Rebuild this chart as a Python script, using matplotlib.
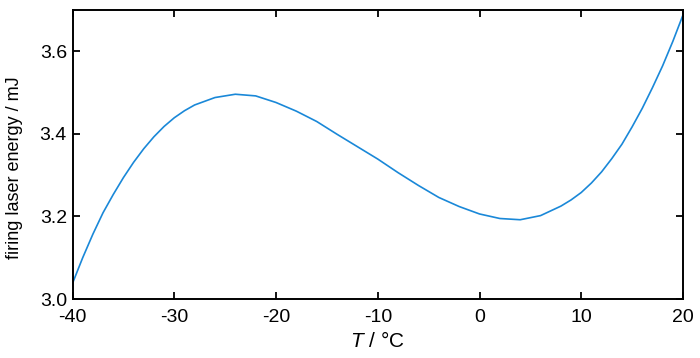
import matplotlib
matplotlib.use("Agg")
import matplotlib.pyplot as plt

# valores (mas densos donde la curva se dobla)
temp = [-40, -39, -38, -37, -36, -35, -34, -33, -32, -31, -30, -29, -28,
        -26, -24, -22, -20, -18, -16, -14, -12, -10, -8, -6, -4, -2, 0,
        2, 4, 6, 8, 9, 10, 11, 12, 13, 14, 15, 16, 17, 18, 19, 20]
energy = [3.038, 3.100, 3.157, 3.209, 3.253, 3.294, 3.331, 3.364, 3.393,
          3.418, 3.439, 3.456, 3.470, 3.488, 3.496, 3.492, 3.476, 3.455,
          3.430, 3.399, 3.369, 3.339, 3.306, 3.275, 3.246, 3.224, 3.206,
          3.195, 3.192, 3.202, 3.225, 3.240, 3.258, 3.281, 3.308, 3.340,
          3.375, 3.417, 3.462, 3.512, 3.565, 3.624, 3.688]

x_ticks = [-40, -30, -20, -10, 0, 10, 20]
y_ticks = [3.0, 3.2, 3.4, 3.6]

plt.rcParams['font.family'] = ['Liberation Sans', 'DejaVu Sans']
plt.rcParams['mathtext.fontset'] = 'custom'
plt.rcParams['mathtext.it'] = 'Liberation Sans:italic'
plt.rcParams['mathtext.rm'] = 'Liberation Sans'

fig = plt.figure(figsize=(7, 3.58), dpi=100)
ax = fig.add_axes([0.1036, 0.1648, 0.8721, 0.8072])

ax.plot(temp, energy, color='#1a88d8', lw=1.2)

ax.set_xlim(-40, 20)
ax.set_ylim(3.0, 3.7)
ax.set_xticks(x_ticks)
ax.set_xticklabels([str(v) for v in x_ticks])
ax.set_yticks(y_ticks)
ax.set_yticklabels(['%.1f' % v for v in y_ticks])

ax.tick_params(direction='in', length=5, width=1.3, top=True, right=True,
               labelsize=14)
ax.tick_params(axis='x', pad=7)
ax.tick_params(axis='y', pad=4)
for s in ax.spines.values():
    s.set_linewidth(1.4)

ax.set_xlabel('$T$ / °C', fontsize=15)
ax.xaxis.set_label_coords(0.5, -0.112)
ax.set_ylabel('firing laser energy / mJ', fontsize=13)
ax.yaxis.set_label_coords(-0.081, 0.455)

fig.savefig('out.png', dpi=100)
